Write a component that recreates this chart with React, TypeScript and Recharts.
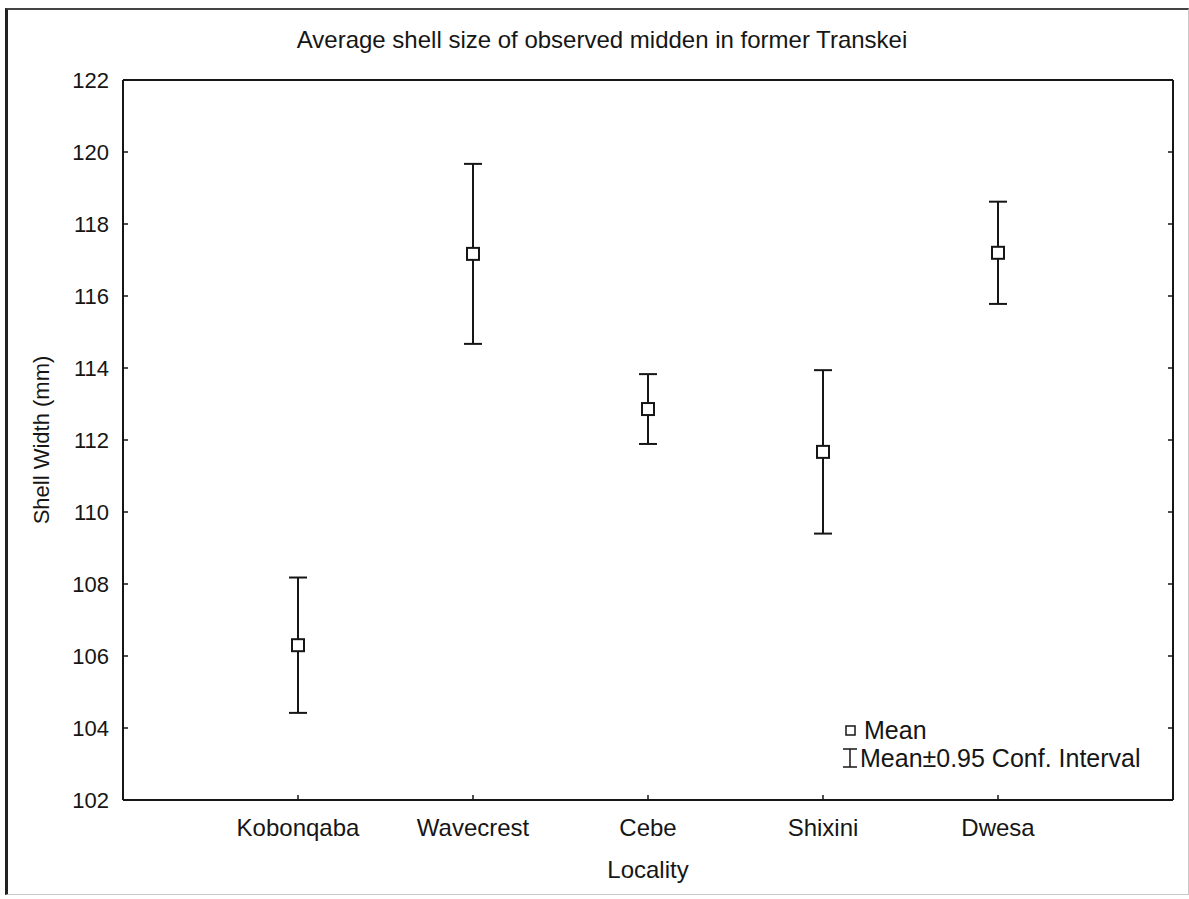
import { ErrorBar, Scatter, ScatterChart, XAxis, YAxis } from "recharts";

const localities = ["Kobonqaba", "Wavecrest", "Cebe", "Shixini", "Dwesa"];
const meanWidth = [106.3, 117.17, 112.86, 111.67, 117.2];
const ciHalf = [1.88, 2.5, 0.97, 2.27, 1.42];
const localityTicks = [1, 2, 3, 4, 5];
const widthTicks = [102, 104, 106, 108, 110, 112, 114, 116, 118, 120, 122];

const data = localities.map((name, i) => ({
  pos: i + 1,
  name,
  mean: meanWidth[i],
  ci: ciHalf[i],
}));

const FONT = '"Liberation Sans", Arial, Helvetica, sans-serif';
const INK = "#161616";
const TICK_LEN = 5;

// ticks point into the plot frame on every side; labels sit outside
function BottomTick({ x, y, payload }: any) {
  return (
    <g>
      <line x1={x} x2={x} y1={y} y2={y - TICK_LEN} stroke={INK} strokeWidth={1.5} />
      <text
        x={x}
        y={y + 27}
        textAnchor="middle"
        dominantBaseline="central"
        fontFamily={FONT}
        fontSize={24}
        fill={INK}
      >
        {localities[payload.value - 1]}
      </text>
    </g>
  );
}

function TopTick({ x, y }: any) {
  return <line x1={x} x2={x} y1={y} y2={y + TICK_LEN} stroke={INK} strokeWidth={1.5} />;
}

function LeftTick({ x, y, payload }: any) {
  return (
    <g>
      <line x1={x} x2={x + TICK_LEN} y1={y} y2={y} stroke={INK} strokeWidth={1.5} />
      <text
        x={x - 14}
        y={y}
        textAnchor="end"
        dominantBaseline="central"
        fontFamily={FONT}
        fontSize={22}
        fill={INK}
      >
        {payload.value}
      </text>
    </g>
  );
}

function RightTick({ x, y }: any) {
  return <line x1={x} x2={x - TICK_LEN} y1={y} y2={y} stroke={INK} strokeWidth={1.5} />;
}

function MeanMarker({ cx, cy }: any) {
  return (
    <rect x={cx - 6} y={cy - 6} width={12} height={12} fill="#fff" stroke={INK} strokeWidth={2} />
  );
}

function ChartLegend() {
  return (
    <div
      style={{
        position: "absolute",
        left: 840,
        top: 716,
        fontFamily: FONT,
        fontSize: 25,
        color: INK,
        lineHeight: "28px",
      }}
    >
      <div style={{ display: "flex", alignItems: "center" }}>
        <svg width={22} height={28}>
          <rect x={6} y={10} width={9} height={9} fill="#fff" stroke={INK} strokeWidth={1.5} />
        </svg>
        <span style={{ marginLeft: 2 }}>Mean</span>
      </div>
      <div style={{ display: "flex", alignItems: "center" }}>
        <svg width={20} height={28}>
          <line x1={10} x2={10} y1={5} y2={23} stroke={INK} strokeWidth={1.5} />
          <line x1={3} x2={17} y1={5} y2={5} stroke={INK} strokeWidth={1.5} />
          <line x1={3} x2={17} y1={23} y2={23} stroke={INK} strokeWidth={1.5} />
        </svg>
        <span>Mean±0.95 Conf. Interval</span>
      </div>
    </div>
  );
}

export default function App() {
  return (
    <div
      style={{
        position: "absolute",
        left: 0,
        top: 0,
        width: 1189,
        height: 899,
        background: "#fff",
        fontFamily: FONT,
      }}
    >
      <div
        style={{
          position: "absolute",
          left: 5,
          top: 8,
          width: 1180,
          height: 884,
          borderLeft: "3px solid #222",
          borderTop: "2px solid #444",
          borderRight: "1px solid #c8c8c8",
          borderBottom: "1px solid #c8c8c8",
        }}
      />
      <div
        style={{
          position: "absolute",
          left: 0,
          width: 1204,
          top: 26,
          textAlign: "center",
          fontSize: 24,
          color: INK,
        }}
      >
        Average shell size of observed midden in former Transkei
      </div>

      <div style={{ position: "absolute", left: 0, top: 0 }}>
        <ScatterChart
          width={1189}
          height={899}
          margin={{ top: 79, right: 15, bottom: 39, left: 63 }}
        >
          <XAxis
            dataKey="pos"
            type="number"
            domain={[0, 6]}
            ticks={localityTicks}
            interval={0}
            allowDataOverflow
            height={60}
            tickSize={0}
            tickMargin={0}
            tickLine={false}
            axisLine={{ stroke: INK, strokeWidth: 2 }}
            tick={BottomTick}
            label={{
              value: "Locality",
              position: "insideBottom",
              offset: -18,
              fill: INK,
              fontSize: 24,
              fontFamily: FONT,
            }}
          />
          <XAxis
            xAxisId="top"
            orientation="top"
            type="number"
            domain={[0, 6]}
            ticks={localityTicks}
            interval={0}
            allowDataOverflow
            height={1}
            tickSize={0}
            tickMargin={0}
            tickLine={false}
            axisLine={{ stroke: INK, strokeWidth: 2 }}
            tick={TopTick}
          />
          <YAxis
            dataKey="mean"
            type="number"
            domain={[102, 122]}
            ticks={widthTicks}
            interval={0}
            allowDataOverflow
            width={60}
            tickSize={0}
            tickMargin={0}
            tickLine={false}
            axisLine={{ stroke: INK, strokeWidth: 2 }}
            tick={LeftTick}
            label={{
              value: "Shell Width (mm)",
              angle: -90,
              position: "insideLeft",
              offset: -22,
              style: { textAnchor: "middle" },
              fill: INK,
              fontSize: 22,
              fontFamily: FONT,
            }}
          />
          <YAxis
            yAxisId="right"
            orientation="right"
            type="number"
            domain={[102, 122]}
            ticks={widthTicks}
            interval={0}
            allowDataOverflow
            width={1}
            tickSize={0}
            tickMargin={0}
            tickLine={false}
            axisLine={{ stroke: INK, strokeWidth: 2 }}
            tick={RightTick}
          />
          <Scatter data={data} dataKey="mean" shape={MeanMarker} isAnimationActive={false}>
            <ErrorBar
              dataKey="ci"
              direction="y"
              width={9}
              stroke={INK}
              strokeWidth={2}
              isAnimationActive={false}
            />
          </Scatter>
        </ScatterChart>
      </div>

      <ChartLegend />
    </div>
  );
}
